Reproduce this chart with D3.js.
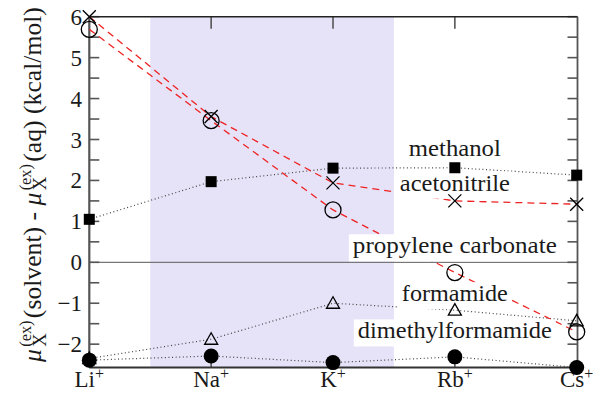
<!DOCTYPE html>
<html>
<head>
<meta charset="utf-8">
<script src="https://cdn.jsdelivr.net/npm/d3@7"></script>
<style>
  html, body { margin: 0; padding: 0; background: #fff; }
  svg { display: block; }
</style>
</head>
<body>
<svg id="chart" width="600" height="403"></svg>
<script>
// ---------- data ----------
const categories = ["Li", "Na", "K", "Rb", "Cs"];
const methanol = [1.05, 1.97, 2.30, 2.31, 2.13];
const acetonitrile = [6.0, 3.56, 1.94, 1.50, 1.42];
const propyleneCarbonate = [5.69, 3.46, 1.28, -0.25, -1.70];
const formamide = [-2.35, -1.88, -1.00, -1.17, -1.43];
const dimethylformamide = [-2.39, -2.29, -2.45, -2.31, -2.57];
const yTickValues = [-2, -1, 0, 1, 2, 3, 4, 5, 6];
const seriesLabels = ["methanol", "acetonitrile", "propylene carbonate", "formamide", "dimethylformamide"];
const labelValues = [2.6, 1.75, 0.22, -0.95, -1.86];
const labelWidths = [92, 110, 204, 106, 194];

// ---------- font detection ----------
function hasFont(name) {
  const c = document.createElement("canvas").getContext("2d");
  const s = "mmmmmmmmmmlli WWQ 0123456789";
  const res = [];
  for (const fb of ["monospace", "sans-serif"]) {
    c.font = `40px ${fb}`;
    const w0 = c.measureText(s).width;
    c.font = `40px "${name}", ${fb}`;
    const w1 = c.measureText(s).width;
    res.push(w0 !== w1);
  }
  return res[0] || res[1];
}
const fontCandidates = ["Liberation Serif", "DejaVu Serif", "Noto Serif", "Tinos", "Times New Roman", "FreeSerif"];
const serifFont = fontCandidates.find(hasFont);
const FONT = serifFont ? `"${serifFont}", serif` : "serif";

// ---------- layout ----------
const svg = d3.select("#chart").attr("font-family", FONT);
const pLeft = 89.3, pRight = 577.5, pTop = 16.7, pBottom = 367.5;
const x = d3.scalePoint().domain(categories).range([pLeft, 576.7]);
const y = d3.scaleLinear().domain([-2.57, 6]).range([pBottom, pTop]);
const step = x.step();
const ink = "#1a1a1a";

// shaded band (Na..K)
svg.append("rect")
  .attr("x", x("Li") + step / 2).attr("y", pTop)
  .attr("width", (x("K") + step / 2) - (x("Li") + step / 2))
  .attr("height", pBottom - pTop)
  .attr("fill", "#e6e3f9");

// zero line
svg.append("line")
  .attr("x1", pLeft).attr("x2", pRight)
  .attr("y1", y(0)).attr("y2", y(0))
  .attr("stroke", "#777").attr("stroke-width", 1.2);

// axes frame
const minorTicks = d3.range(-2, 6.01, 0.5);
const gAx = svg.append("g");
gAx.selectAll(".lt").data(minorTicks).join("line")
  .attr("x1", pLeft).attr("x2", pLeft + 10)
  .attr("y1", d => y(d)).attr("y2", d => y(d))
  .attr("stroke", "#555").attr("stroke-width", 1.6);
gAx.selectAll(".rt").data(minorTicks).join("line")
  .attr("x1", pRight - 10).attr("x2", pRight)
  .attr("y1", d => y(d)).attr("y2", d => y(d))
  .attr("stroke", "#555").attr("stroke-width", 1.6);
const innerCats = categories.slice(1, -1);
gAx.selectAll(".tt").data(innerCats).join("line")
  .attr("x1", d => x(d)).attr("x2", d => x(d))
  .attr("y1", pTop).attr("y2", pTop + 12)
  .attr("stroke", "#555").attr("stroke-width", 1.6);
gAx.selectAll(".bt").data(innerCats).join("line")
  .attr("x1", d => x(d)).attr("x2", d => x(d))
  .attr("y1", pBottom).attr("y2", pBottom - 11)
  .attr("stroke", "#555").attr("stroke-width", 1.6);
gAx.append("line").attr("x1", pLeft).attr("x2", pRight).attr("y1", pTop).attr("y2", pTop)
  .attr("stroke", "#222").attr("stroke-width", 1.5);
gAx.append("line").attr("x1", pRight).attr("x2", pRight).attr("y1", pTop).attr("y2", pBottom)
  .attr("stroke", "#555").attr("stroke-width", 1.8);
gAx.append("line").attr("x1", pLeft).attr("x2", pRight).attr("y1", pBottom).attr("y2", pBottom)
  .attr("stroke", "#333").attr("stroke-width", 1.8);
gAx.append("line").attr("x1", pLeft).attr("x2", pLeft).attr("y1", pTop).attr("y2", pBottom)
  .attr("stroke", "#555").attr("stroke-width", 2.2);

// y tick labels
svg.append("g").selectAll("text").data(yTickValues).join("text")
  .attr("x", 82).attr("y", d => y(d) + 8)
  .attr("text-anchor", "end").attr("font-size", 23).attr("fill", ink)
  .text(d => d < 0 ? "\u2212" + Math.abs(d) : d);

// x tick labels
const xt = svg.append("g").selectAll("text").data(categories).join("text")
  .attr("x", d => x(d)).attr("y", 387)
  .attr("text-anchor", "middle").attr("font-size", 23).attr("fill", ink);
xt.append("tspan").text(d => d);
xt.append("tspan").attr("dy", -8).attr("font-size", 16).text("+");

// lines
const line = d3.line().x((d, i) => x(categories[i])).y(d => y(d));
function drawLine(data, dashed) {
  svg.append("path").datum(data).attr("d", line).attr("fill", "none")
    .attr("stroke", dashed ? "#ee2222" : "#444")
    .attr("stroke-width", dashed ? 1.3 : 1.2)
    .attr("stroke-dasharray", dashed ? "7,5" : "1,2.6");
}
drawLine(methanol, false);
drawLine(formamide, false);
drawLine(dimethylformamide, false);
drawLine(acetonitrile, true);
drawLine(propyleneCarbonate, true);

// series labels with white boxes
const lab = svg.append("g");
seriesLabels.forEach((s, i) => {
  const g = lab.append("g");
  const t = g.append("text")
    .attr("x", x("Rb")).attr("y", y(labelValues[i]))
    .attr("text-anchor", "middle").attr("font-size", 23).attr("fill", ink)
    .attr("textLength", labelWidths[i]).attr("lengthAdjust", "spacingAndGlyphs")
    .text(s);
  const bb = t.node().getBBox();
  g.insert("rect", "text")
    .attr("x", bb.x - 4).attr("y", bb.y + 1)
    .attr("width", bb.width + 8).attr("height", bb.height + 2)
    .attr("fill", "#fff");
});

// markers
const mk = svg.append("g");
mk.selectAll(".sq").data(methanol).join("rect")
  .attr("x", (d, i) => x(categories[i]) - 5.5).attr("y", d => y(d) - 5.5)
  .attr("width", 11).attr("height", 11).attr("fill", "#000");
mk.selectAll(".cr").data(acetonitrile).join("path")
  .attr("d", (d, i) => {
    const cx = x(categories[i]), cy = y(d), r = 6.5;
    return `M${cx - r},${cy - r}L${cx + r},${cy + r}M${cx - r},${cy + r}L${cx + r},${cy - r}`;
  })
  .attr("stroke", "#000").attr("stroke-width", 1.3).attr("fill", "none");
mk.selectAll(".oc").data(propyleneCarbonate).join("circle")
  .attr("cx", (d, i) => x(categories[i])).attr("cy", d => y(d)).attr("r", 8)
  .attr("stroke", "#000").attr("stroke-width", 1.3).attr("fill", "none");
mk.selectAll(".tr").data(formamide).join("path")
  .attr("d", (d, i) => {
    const cx = x(categories[i]), cy = y(d);
    return `M${cx},${cy - 6.5}L${cx + 6.5},${cy + 5}L${cx - 6.5},${cy + 5}Z`;
  })
  .attr("stroke", "#000").attr("stroke-width", 1.3).attr("fill", "none");
mk.selectAll(".fc").data(dimethylformamide).join("circle")
  .attr("cx", (d, i) => x(categories[i])).attr("cy", d => y(d)).attr("r", 7.5)
  .attr("fill", "#000");

// y axis label (rotated, with stacked super/subscripts)
const yl = svg.append("g");
const inner = yl.append("g");
const segs = [
  { t: "\u03bc", it: true },
  { sup: "(ex)", sub: "X" },
  { t: "(solvent) - " },
  { t: "\u03bc", it: true },
  { sup: "(ex)", sub: "X" },
  { t: "(aq) (kcal/mol)" }
];
let cursor = 0;
segs.forEach(s => {
  if (s.t) {
    const t = inner.append("text").attr("x", cursor).attr("y", 0)
      .attr("font-size", 22).attr("fill", ink).style("white-space", "pre")
      .attr("font-style", s.it ? "italic" : null).text(s.t);
    cursor += t.node().getComputedTextLength() + (s.it ? 1 : 0);
  } else {
    const a = inner.append("text").attr("x", cursor + 1).attr("y", -9)
      .attr("font-size", 14).attr("fill", ink).text(s.sup);
    const b = inner.append("text").attr("x", cursor + 1).attr("y", 4)
      .attr("font-size", 16).attr("fill", ink).text(s.sub);
    cursor += Math.max(a.node().getComputedTextLength(), b.node().getComputedTextLength()) + 3;
  }
});
const total = cursor;
const k = 355 / total;
inner.attr("transform", `scale(${k}) translate(${-total / 2},0)`);
yl.attr("transform", `translate(41,184.5) rotate(-90)`);
</script>
</body>
</html>
